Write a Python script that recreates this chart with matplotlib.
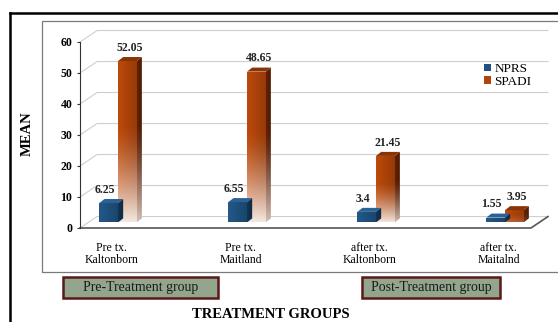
import numpy as np
import matplotlib
matplotlib.use('Agg')
import matplotlib.pyplot as plt
from matplotlib.patches import Polygon, Patch, Rectangle
from matplotlib.colors import to_rgb

groups = ['Pre tx.\nKaltonborn', 'Pre tx.\nMaitland', 'after tx.\nKaltonborn', 'after tx.\nMaitalnd']
nprs = [6.25, 6.55, 3.4, 1.55]
spadi = [52.05, 48.65, 21.45, 3.95]
nprs_text = ['6.25', '6.55', '3.4', '1.55']
spadi_text = ['52.05', '48.65', '21.45', '3.95']
yticks = [0, 10, 20, 30, 40, 50, 60]
sections = ['Pre-Treatment group', 'Post-Treatment group']

plt.rcParams['font.family'] = ['Liberation Serif', 'DejaVu Serif']

# fake 3d geometry (data units)
DX, DY = 0.132, 3.7      # depth of back wall
W, SX, SY = 0.145, 0.04, 1.3
BASE = 1.8
XL, XR = -0.2946, 3.3333

NPRS_C = '#1f527f'
NPRS_SIDE = '#10304f'
NPRS_TOP = '#2a6296'
SPADI_C = '#b0440a'
SPADI_SIDE = '#5a1e04'
SPADI_TOP = '#8a3306'


def gradient_face(ax, patch, extent, color, fade, z):
    rgb = np.array(to_rgb(color))
    light = np.array([0.97, 0.94, 0.92])
    t = np.linspace(0, 1, 100)[:, None, None]
    u = np.linspace(0, 1, 20)[None, :, None]
    k = 1 - fade * (1 - np.clip(t / 0.6, 0, 1)) ** 1.4
    col = np.clip(rgb * (1.08 - 0.22 * u), 0, 1)
    img = col * k + light * (1 - k)
    im = ax.imshow(img, extent=extent, origin='lower', aspect='auto',
                   interpolation='bilinear', zorder=z)
    im.set_clip_path(patch)


def draw_bar(ax, x0, val, front, side, top, fade, z):
    bar = ax.bar(x0, val, W, bottom=BASE, align='edge', facecolor='none',
                 edgecolor='none', zorder=z)[0]
    gradient_face(ax, bar, (x0, x0 + W, BASE, BASE + val), front, fade, z)
    sv = [(x0 + W, BASE), (x0 + W + SX, BASE + SY),
          (x0 + W + SX, BASE + val + SY), (x0 + W, BASE + val)]
    sp = Polygon(sv, closed=True, facecolor='none', edgecolor='none', zorder=z)
    ax.add_patch(sp)
    gradient_face(ax, sp, (x0 + W, x0 + W + SX, BASE, BASE + val + SY), side, fade * 0.8, z)
    tv = [(x0, BASE + val), (x0 + W, BASE + val),
          (x0 + W + SX, BASE + val + SY), (x0 + SX, BASE + val + SY)]
    ax.add_patch(Polygon(tv, closed=True, facecolor=top, edgecolor='none', zorder=z))


fig = plt.figure(figsize=(5.58, 3.22), dpi=100)
ax = fig.add_axes([80 / 558, 94 / 322, 468 / 558, 198 / 322])

# frames
fig.add_artist(Rectangle((42 / 558, 50 / 322), 1.0, 251 / 322, transform=fig.transFigure,
                         facecolor='none', edgecolor='#7a7a7a', lw=0.9))
fig.add_artist(plt.Line2D([10 / 558, 1], [309 / 322, 309 / 322], transform=fig.transFigure,
                          color='black', lw=1.8))
fig.add_artist(plt.Line2D([10 / 558, 10 / 558], [0, 309 / 322], transform=fig.transFigure,
                          color='black', lw=1.8))

# back wall and floor
for v in yticks:
    ax.plot([XL, XL + DX, XR], [v, v + DY, v + DY], color='#cfcfcf', lw=0.8, zorder=1,
            clip_on=False)
ax.plot([XL, XR - DX, XR], [0, 0, DY], color='#555555', lw=1.2, zorder=2, clip_on=False)

x = np.arange(len(groups))
for i in x:
    draw_bar(ax, i, spadi[i], SPADI_C, SPADI_SIDE, SPADI_TOP, min(1.0, spadi[i] / 22) * 0.95, 3)
    draw_bar(ax, i - W, nprs[i], NPRS_C, NPRS_SIDE, NPRS_TOP, 0.0, 4)
    ax.text(i - W / 2 - 0.03, BASE + nprs[i] + SY + 1.0, nprs_text[i], ha='center',
            va='bottom', fontsize=8.5, fontweight='bold', color='#222222', zorder=6)
    ax.text(i + W / 2 + SX / 2, BASE + spadi[i] + SY + 1.0, spadi_text[i], ha='center',
            va='bottom', fontsize=8.5, fontweight='bold', color='#222222', zorder=6)

ax.set_xlim(XL, XR)
ax.set_ylim(0, 63.87)
ax.set_facecolor('none')
for s in ['top', 'right', 'bottom']:
    ax.spines[s].set_visible(False)
ax.spines['left'].set_bounds(0, 60)
ax.spines['left'].set_color('#333333')
ax.spines['left'].set_linewidth(0.8)
ax.set_yticks(yticks)
ax.set_yticklabels([str(v) for v in yticks], fontweight='bold', fontsize=8.5)
ax.tick_params(axis='y', length=2.5, width=0.8, pad=3, color='#333333')
ax.set_xticks(x - 0.05)
ax.set_xticklabels(groups, fontsize=8.5, linespacing=1.05)
ax.tick_params(axis='x', length=0, pad=10)

ax.legend(handles=[Patch(facecolor=NPRS_C, label='NPRS'), Patch(facecolor=SPADI_C, label='SPADI')],
          loc='upper left', bbox_to_anchor=(484 / 558, 1 - 63 / 322), bbox_transform=fig.transFigure,
          frameon=False, fontsize=9.5, handlelength=0.55, handleheight=0.45, handletextpad=0.25,
          labelspacing=0.05, borderpad=0, borderaxespad=0)

fig.text(27 / 558, 1 - 134 / 322, 'MEAN', rotation=90, ha='center', va='center',
         fontsize=10.5, fontweight='bold')
fig.text(271 / 558, 1 - 314 / 322, 'TREATMENT GROUPS', ha='center', va='center',
         fontsize=10.5, fontweight='bold')

# section boxes under the axis
boxes = [(63, 218), (362, 500)]
for (bx0, bx1), name in zip(boxes, sections):
    fig.add_artist(Rectangle((bx0 / 558, 1 - 298 / 322), (bx1 - bx0) / 558, 21 / 322,
                             transform=fig.transFigure, facecolor='#93a58c',
                             edgecolor='#5a1818', lw=1.8))
    fig.text((bx0 + bx1) / 2 / 558, 1 - 287.5 / 322, name, ha='center', va='center',
             fontsize=10, color='#1a1a1a')

fig.savefig('out.png', dpi=100)
